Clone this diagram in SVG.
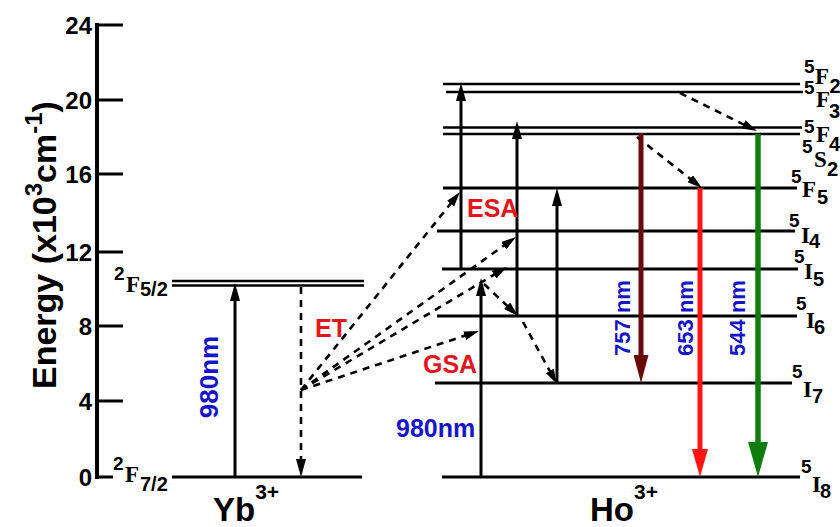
<svg xmlns="http://www.w3.org/2000/svg" width="840" height="527" viewBox="0 0 840 527">
<style>
.lv{stroke:#000;stroke-width:3;fill:none}
.lvt{stroke:#000;stroke-width:2.6;fill:none}
.ar{stroke:#000;stroke-width:3;fill:none}
.da{stroke:#000;stroke-width:2.6;fill:none;stroke-dasharray:7 6}
.tk{font-family:"Liberation Sans",Arial,sans-serif;font-weight:bold;font-size:24px;fill:#000;text-anchor:end}
.sans{font-family:"Liberation Sans",Arial,sans-serif;font-weight:bold}
.serif{font-family:"Liberation Serif","Times New Roman",serif;font-weight:bold}
.red{fill:#e3161e}
.blue{fill:#1616c8}
.sup{font-size:19px}
.main{font-size:23px}
.sub{font-size:20px}
</style>
<defs>
<marker id="ah" viewBox="0 0 18 10" refX="10" refY="5" markerWidth="18" markerHeight="10" orient="auto" markerUnits="userSpaceOnUse"><path d="M0,0 L18,5 L0,10 z" fill="#000"/></marker>
<marker id="ahd" viewBox="0 0 15 9" refX="7" refY="4.5" markerWidth="15" markerHeight="9" orient="auto" markerUnits="userSpaceOnUse"><path d="M0,0 L15,4.5 L0,9 z" fill="#000"/></marker>
<marker id="m757" viewBox="0 0 28 15" refX="14" refY="7.5" markerWidth="28" markerHeight="15" orient="auto" markerUnits="userSpaceOnUse"><path d="M0,0 L28,7.5 L0,15 z" fill="#6b0a0a"/></marker>
<marker id="m653" viewBox="0 0 28 16" refX="14" refY="8" markerWidth="28" markerHeight="16" orient="auto" markerUnits="userSpaceOnUse"><path d="M0,0 L28,8 L0,16 z" fill="#ff1414"/></marker>
<marker id="m544" viewBox="0 0 35 20" refX="18" refY="10" markerWidth="35" markerHeight="20" orient="auto" markerUnits="userSpaceOnUse"><path d="M0,0 L35,10 L0,20 z" fill="#0d7d0d"/></marker>
</defs>

<g id="axis">
<line x1="97" y1="23" x2="97" y2="479" stroke="#000" stroke-width="4"/>
<g stroke="#000" stroke-width="3">
<line x1="97" y1="25" x2="123" y2="25"/>
<line x1="97" y1="100" x2="123" y2="100"/>
<line x1="97" y1="174" x2="123" y2="174"/>
<line x1="97" y1="252" x2="123" y2="252"/>
<line x1="97" y1="326" x2="123" y2="326"/>
<line x1="97" y1="401" x2="123" y2="401"/>
<line x1="97" y1="477" x2="113" y2="477"/>
</g>
<text class="tk" x="92" y="34">24</text>
<text class="tk" x="92" y="109">20</text>
<text class="tk" x="92" y="183">16</text>
<text class="tk" x="92" y="261">12</text>
<text class="tk" x="92" y="335">8</text>
<text class="tk" x="92" y="410">4</text>
<text class="tk" x="92" y="486">0</text>
<text class="sans" font-size="34" transform="translate(56,389) rotate(-90)">Energy (x10<tspan font-size="24" dy="-14">3</tspan><tspan dy="14">cm</tspan><tspan font-size="24" dy="-14">-1</tspan><tspan dy="14">)</tspan></text>
</g>

<g id="yb-levels">
<line class="lvt" x1="172" y1="281" x2="364" y2="281"/>
<line class="lvt" x1="172" y1="285.5" x2="364" y2="285.5"/>
<line class="lv" x1="172" y1="477" x2="362" y2="477"/>
<text x="114" y="280" class="sans sup">2</text>
<text x="126" y="292" class="serif main">F</text>
<text x="140" y="296" class="sans sub">5/2</text>
<text x="113" y="470" class="sans sup">2</text>
<text x="125" y="482" class="serif main">F</text>
<text x="140" y="491" class="sans sub">7/2</text>
<text x="213" y="521" class="sans" font-size="33">Yb<tspan font-size="21" dy="-22">3+</tspan></text>
</g>

<g id="ho-levels">
<line class="lvt" x1="443" y1="84" x2="800" y2="84"/>
<line class="lvt" x1="446" y1="92" x2="803" y2="92"/>
<line class="lvt" x1="443" y1="127.5" x2="802" y2="127.5"/>
<line class="lvt" x1="443" y1="134" x2="800" y2="134"/>
<line class="lv" x1="443" y1="188" x2="797" y2="188"/>
<line class="lv" x1="437" y1="231" x2="795" y2="231"/>
<line class="lv" x1="442" y1="269" x2="798" y2="269"/>
<line class="lv" x1="437" y1="316" x2="797" y2="316"/>
<line class="lv" x1="435" y1="383" x2="792" y2="383"/>
<line class="lv" x1="442" y1="477" x2="800" y2="477"/>
<text class="sans sup" x="804" y="73">5</text><text class="serif main" x="815" y="84">F</text><text class="sans sub" x="829.5" y="93" font-size="19">2</text>
<text class="sans sup" x="804" y="94">5</text><text class="serif main" x="816" y="107">F</text><text class="sans sub" x="829" y="118">3</text>
<text class="sans sup" x="804" y="133">5</text><text class="serif main" x="816" y="142">F</text><text class="sans sub" x="829" y="151">4</text>
<text class="sans sup" x="802" y="153">5</text><text class="serif main" x="814" y="167">S</text><text class="sans sub" x="827" y="176">2</text>
<text class="sans sup" x="791" y="183">5</text><text class="serif main" x="802" y="197">F</text><text class="sans sub" x="817" y="204">5</text>
<text class="sans sup" x="789" y="227">5</text><text class="serif main" x="801" y="243">I</text><text class="sans sub" x="809" y="248">4</text>
<text class="sans sup" x="794" y="263">5</text><text class="serif main" x="804" y="279">I</text><text class="sans sub" x="813" y="286">5</text>
<text class="sans sup" x="796" y="310">5</text><text class="serif main" x="806" y="328">I</text><text class="sans sub" x="814" y="334">6</text>
<text class="sans sup" x="792" y="378">5</text><text class="serif main" x="803" y="397">I</text><text class="sans sub" x="812" y="403">7</text>
<text class="sans sup" x="801" y="473">5</text><text class="serif main" x="812" y="492">I</text><text class="sans sub" x="820" y="498">8</text>
<text x="590" y="521" class="sans" font-size="33">Ho<tspan font-size="21" dy="-22">3+</tspan></text>
</g>

<g id="connectors">
<line class="ar" x1="235" y1="477" x2="235" y2="291" marker-end="url(#ah)"/>
<line class="da" x1="301" y1="287" x2="301" y2="469" stroke-dasharray="8 5" marker-end="url(#ah)"/>
<line class="da" x1="301" y1="390" x2="455" y2="198.2" marker-end="url(#ahd)"/>
<line class="da" x1="301" y1="390" x2="509.5" y2="241.6" marker-end="url(#ahd)"/>
<line class="da" x1="301" y1="390" x2="500.1" y2="271.1" marker-end="url(#ahd)"/>
<line class="da" x1="301" y1="390" x2="471.4" y2="333.5" marker-end="url(#ahd)"/>
<line class="ar" x1="481" y1="477" x2="481" y2="286" marker-end="url(#ah)"/>
<line class="ar" x1="461" y1="269" x2="461" y2="91" marker-end="url(#ah)"/>
<line class="ar" x1="517" y1="316" x2="517" y2="129" marker-end="url(#ah)"/>
<line class="ar" x1="557" y1="383" x2="557" y2="196" marker-end="url(#ah)"/>
<line class="da" x1="484" y1="284" x2="512.2" y2="310.5" stroke-dasharray="6 5" marker-end="url(#ahd)"/>
<line class="da" x1="523" y1="322" x2="553.1" y2="377" stroke-dasharray="6 5" marker-end="url(#ahd)"/>
<line class="da" x1="680" y1="93" x2="749.8" y2="127.5" marker-end="url(#ahd)"/>
<line class="da" x1="637" y1="137" x2="695.7" y2="183.1" marker-end="url(#ahd)"/>
<line x1="641" y1="133" x2="641" y2="369" stroke="#6b0a0a" stroke-width="5" marker-end="url(#m757)"/>
<line x1="700" y1="188" x2="700" y2="463" stroke="#ff1414" stroke-width="5" marker-end="url(#m653)"/>
<line x1="758" y1="134" x2="758" y2="460" stroke="#0d7d0d" stroke-width="5.5" marker-end="url(#m544)"/>
</g>

<g id="labels">
<text class="sans red" font-size="25" x="467" y="217">ESA</text>
<text class="sans red" font-size="25" x="423" y="373">GSA</text>
<text class="sans red" font-size="25" x="315" y="337">ET</text>
<text class="sans blue" font-size="25" x="396" y="437">980nm</text>
<text class="sans blue" font-size="26" text-anchor="middle" transform="translate(218,377) rotate(-90)">980nm</text>
<text class="sans blue" font-size="22" text-anchor="middle" transform="translate(630,318) rotate(-90)">757 nm</text>
<text class="sans blue" font-size="22" text-anchor="middle" transform="translate(693,318) rotate(-90)">653 nm</text>
<text class="sans blue" font-size="22" text-anchor="middle" transform="translate(745,318) rotate(-90)">544 nm</text>
</g>
</svg>
